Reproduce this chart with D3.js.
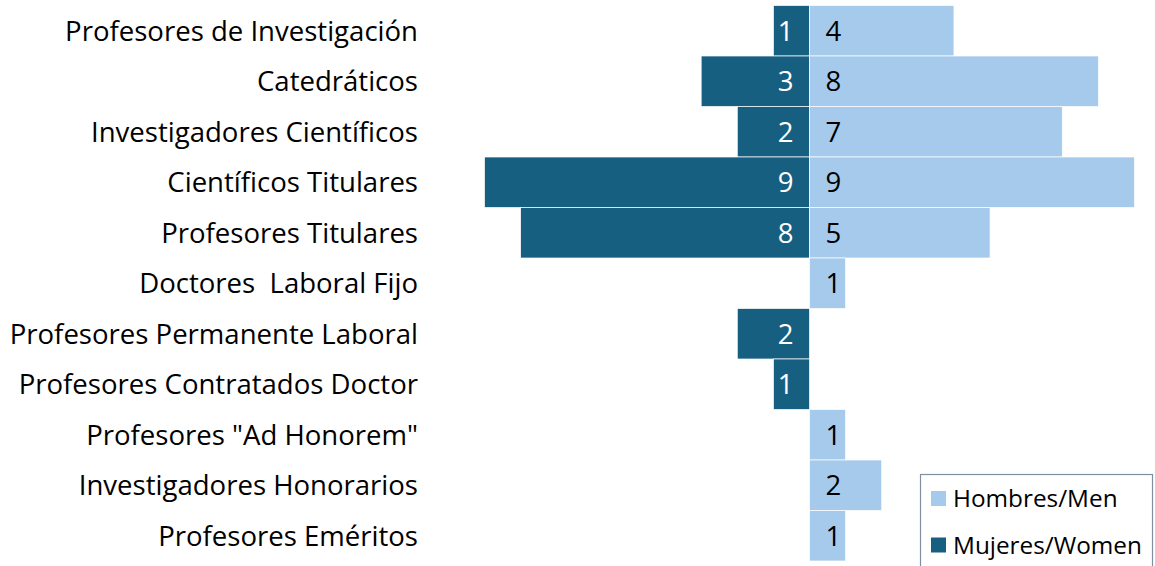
<!DOCTYPE html>
<html><head><meta charset="utf-8">
<script src="https://cdn.jsdelivr.net/npm/d3@7"></script>
<style>body{margin:0;background:#fff}svg{display:block}text{white-space:pre}</style>
</head><body>
<script>
const categories = ["Profesores de Investigación","Catedráticos","Investigadores Científicos","Científicos Titulares","Profesores Titulares","Doctores  Laboral Fijo","Profesores Permanente Laboral","Profesores Contratados Doctor","Profesores \"Ad Honorem\"","Investigadores Honorarios","Profesores Eméritos"];
const men   = [4,8,7,9,5,1,0,0,1,2,1];
const women = [1,3,2,9,8,0,2,1,0,0,0];
const seriesNames = ["Hombres/Men","Mujeres/Women"];
const colors = {men:"#a6caec", women:"#175f80"};

const W=1155,H=566;
const svg=d3.select("body").append("svg").attr("width",W).attr("height",H);
const font="'Open Sans', 'Noto Sans', sans-serif";

// fit font size to reference text widths
function fitSize(txt, target, base){
  const t=svg.append("text").style("font-family",font).style("font-size",base+"px").text(txt);
  const w=t.node().getComputedTextLength(); t.remove();
  return base*target/w;
}
const labelSize=fitSize(categories[0],353,24);
const legendSize=fitSize(seriesNames[1],189,20);

const y=d3.scaleBand().domain(categories).range([5.5,561]).padding(0);
const xR=d3.scaleLinear().domain([0,9]).range([809.5,1134.5]);
const xL=d3.scaleLinear().domain([0,9]).range([809.5,484.5]);

svg.append("g").selectAll("rect").data(categories.map((c,i)=>({c,v:women[i]})).filter(d=>d.v>0))
 .join("rect").attr("x",d=>xL(d.v)).attr("width",d=>xL(0)-xL(d.v))
 .attr("y",d=>y(d.c)).attr("height",y.bandwidth()).attr("fill",colors.women)
 .attr("stroke","#fff").attr("stroke-width",0.7);
svg.append("g").selectAll("rect").data(categories.map((c,i)=>({c,v:men[i]})).filter(d=>d.v>0))
 .join("rect").attr("x",xR(0)).attr("width",d=>xR(d.v)-xR(0))
 .attr("y",d=>y(d.c)).attr("height",y.bandwidth()).attr("fill",colors.men)
 .attr("stroke","#fff").attr("stroke-width",0.7);

svg.append("g").selectAll("text").data(categories.map((c,i)=>({c,v:women[i]})).filter(d=>d.v>0))
 .join("text").attr("x",xL(0)-16).attr("y",d=>y(d.c)+y.bandwidth()/2).attr("dy","0.36em")
 .attr("text-anchor","end").attr("fill","#fff").style("font-family",font).style("font-size",labelSize+"px").text(d=>d.v);
svg.append("g").selectAll("text").data(categories.map((c,i)=>({c,v:men[i]})).filter(d=>d.v>0))
 .join("text").attr("x",xR(0)+16).attr("y",d=>y(d.c)+y.bandwidth()/2).attr("dy","0.36em")
 .attr("text-anchor","start").attr("fill","#000").style("font-family",font).style("font-size",labelSize+"px").text(d=>d.v);

const ax=svg.append("g").attr("transform","translate(418,0)").call(d3.axisLeft(y).tickSize(0).tickPadding(0));
ax.select(".domain").remove();
ax.selectAll("text").style("font-family",font).style("font-size",labelSize+"px").attr("fill","#000").attr("dy","0.36em");

const lg=svg.append("g");
lg.append("rect").attr("x",920.5).attr("y",474.5).attr("width",232).attr("height",100).attr("fill","#fff").attr("stroke","#7f8f9f").attr("stroke-width",1.2);
const items=[{n:seriesNames[0],c:colors.men},{n:seriesNames[1],c:colors.women}];
items.forEach((d,i)=>{
  const yy=498.5+i*46.5;
  lg.append("rect").attr("x",931).attr("y",yy-7.5).attr("width",15).attr("height",15).attr("fill",d.c);
  lg.append("text").attr("x",953).attr("y",yy).attr("dy","0.36em").style("font-family",font).style("font-size",legendSize+"px").attr("fill","#000").text(d.n);
});
</script>
</body></html>
